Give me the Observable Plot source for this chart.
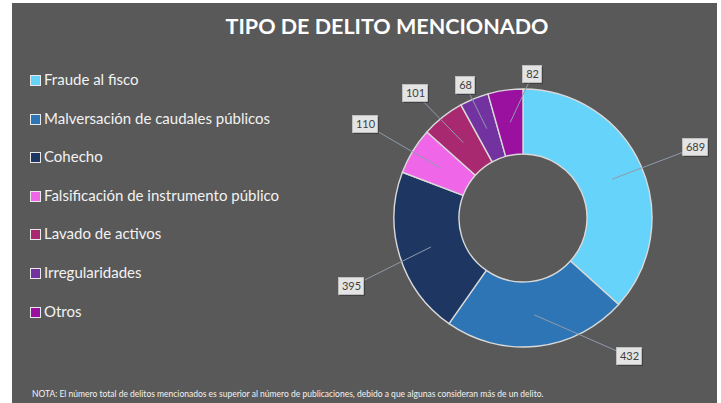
<!DOCTYPE html>
<html><head><meta charset="utf-8">
<script src="https://cdn.jsdelivr.net/npm/d3@7"></script>
<script src="https://cdn.jsdelivr.net/npm/@observablehq/plot@0.6"></script>
<style>
html,body{margin:0;padding:0;background:#fff;}
#wrap{position:absolute;left:12px;top:3px;width:705px;height:400px;background:#595959;overflow:hidden;font-family:Lato,"Open Sans",sans-serif;}
#title{position:absolute;left:0;top:9px;width:750px;text-align:center;color:#fff;font-weight:700;font-size:21.5px;line-height:28px;}
.lg{position:absolute;left:18px;height:20px;line-height:20px;color:#f2f2f2;font-size:15px;white-space:nowrap;}
.sw{display:inline-block;width:9px;height:9px;border:1px solid #e8e8e8;margin-right:3px;vertical-align:-1px;}
#note{position:absolute;left:20px;top:385px;color:#f2f2f2;font-size:8.5px;line-height:12px;white-space:nowrap;}
#chart{position:absolute;left:331px;top:45px;}
</style>
</head><body>
<div id="wrap">
  <div id="title"></div>
  <div id="legend"></div>
  <div id="note"></div>
  <div id="chart"></div>
</div>
<script>
// ---- data ----
const categories = [
  "Fraude al fisco",
  "Malversación de caudales públicos",
  "Cohecho",
  "Falsificación de instrumento público",
  "Lavado de activos",
  "Irregularidades",
  "Otros"
];
const values = [689, 432, 395, 110, 101, 68, 82];
const colors = ["#66D3FA", "#2E75B6", "#1E3662", "#EF67E8", "#A8296F", "#7232A0", "#9A119F"];
const titleText = "TIPO DE DELITO MENCIONADO";
const noteText = "NOTA: El número total de delitos mencionados es superior al número de publicaciones, debido a que algunas consideran más de un delito.";

// ---- layout (label box placement, in px from donut centre, y up) ----
const labelDX = [172, 106, -172, -158, -108, -58, 9];
const labelDY = [71, -138, -68, 94, 125, 133, 144];
const innerR = 64, outerR = 129, anchorR = 97;

document.getElementById("title").textContent = titleText;
document.getElementById("note").textContent = noteText;

const legend = document.getElementById("legend");
categories.forEach((c, i) => {
  const row = document.createElement("div");
  row.className = "lg";
  row.style.top = (66 + i * 38.6) + "px";
  const sw = document.createElement("span");
  sw.className = "sw";
  sw.style.background = colors[i];
  row.appendChild(sw);
  row.appendChild(document.createTextNode(c));
  legend.appendChild(row);
});

const data = categories.map((c, i) => ({category: c, value: values[i], color: colors[i]}));
const arcs = d3.pie().sort(null).value(d => d.value)(data);
const labels = arcs.map((a, i) => {
  const mid = (a.startAngle + a.endAngle) / 2;
  const txt = String(a.data.value);
  const w = txt.length * 6 + 7;
  return {
    value: a.data.value,
    text: txt,
    ax: anchorR * Math.sin(mid),
    ay: anchorR * Math.cos(mid),
    lx: labelDX[i],
    ly: labelDY[i],
    w, h: 17
  };
});

function donut(index, scales) {
  const cx = scales.x(0), cy = scales.y(0);
  const k = scales.x(1) - scales.x(0);
  const arc = d3.arc().innerRadius(innerR * k).outerRadius(outerR * k);
  const g = d3.create("svg:g").attr("transform", `translate(${cx},${cy})`);
  g.selectAll("path").data(arcs).join("path")
    .attr("d", arc)
    .attr("fill", d => d.data.color)
    .attr("stroke", "#d9d9d9")
    .attr("stroke-width", 1.4)
    .attr("stroke-linejoin", "round");
  return g.node();
}

const chart = Plot.plot({
  width: 372,
  height: 340,
  margin: 0,
  style: {background: "transparent", fontFamily: "Lato, sans-serif", overflow: "visible"},
  x: {domain: [-180, 192], axis: null},
  y: {domain: [-170, 170], axis: null},
  marks: [
    donut,
    Plot.link(labels, {x1: "ax", y1: "ay", x2: "lx", y2: "ly", stroke: "#8f9bab", strokeWidth: 1}),
    Plot.rect(labels, {x1: d => d.lx - d.w / 2 + 1.5, x2: d => d.lx + d.w / 2 + 1.5, y1: d => d.ly - d.h / 2 - 1.5, y2: d => d.ly + d.h / 2 - 1.5, fill: "#222", fillOpacity: 0.45}),
    Plot.rect(labels, {x1: d => d.lx - d.w / 2, x2: d => d.lx + d.w / 2, y1: d => d.ly - d.h / 2, y2: d => d.ly + d.h / 2, fill: "#e4e4e4", stroke: "#c8c8c8", strokeWidth: 0.8}),
    Plot.text(labels, {x: "lx", y: "ly", text: "text", fill: "#404040", fontSize: 11})
  ]
});
document.getElementById("chart").appendChild(chart);
</script>
</body></html>
